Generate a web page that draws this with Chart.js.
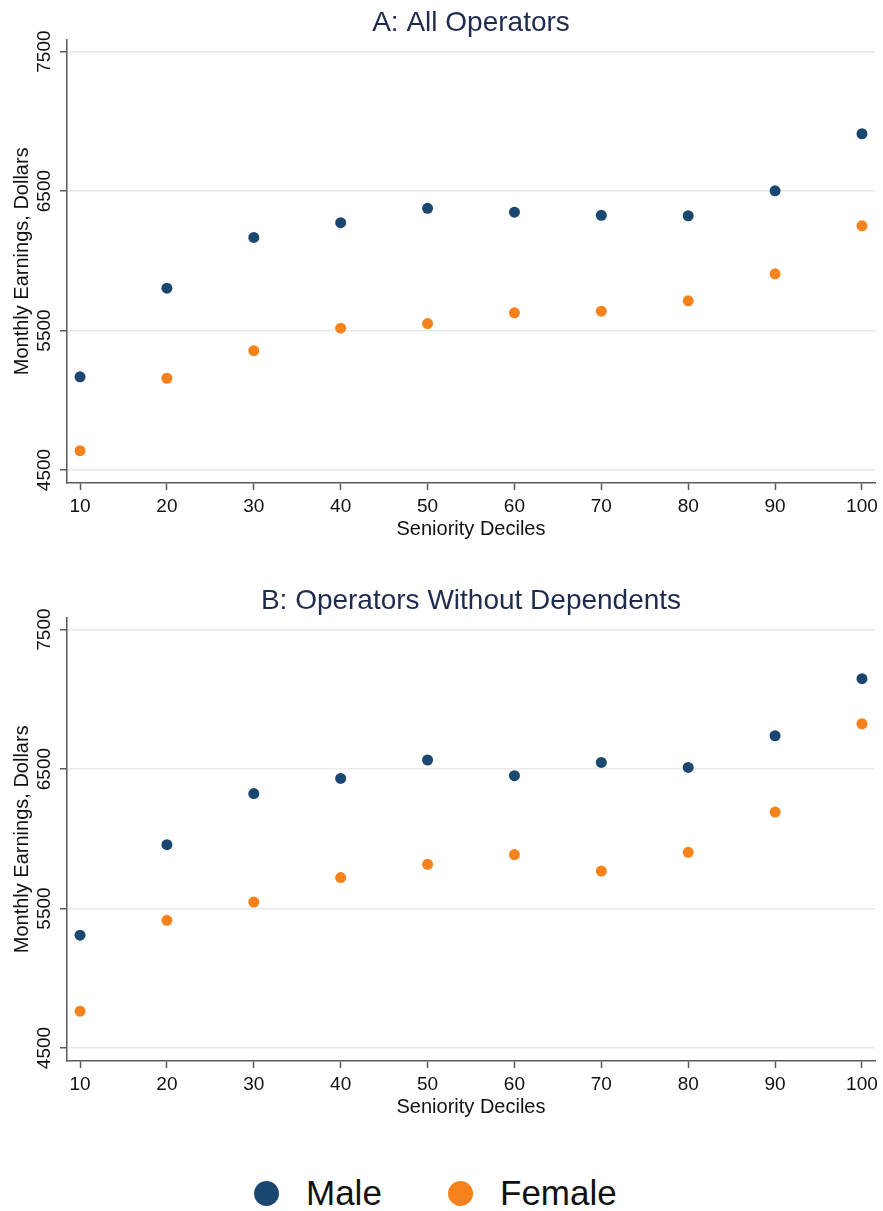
<!DOCTYPE html>
<html>
<head>
<meta charset="utf-8">
<title>Monthly earnings by seniority decile</title>
<script src="https://cdn.jsdelivr.net/npm/chart.js@4.4.1/dist/chart.umd.min.js"></script>
<style>
    body {
        margin: 0;
        background: #fff;
        width: 883px;
        height: 1211px;
        position: relative;
        overflow: hidden;
        font-family: "Liberation Sans", Arial, sans-serif;
    }
    .panel {
        position: absolute;
        left: 0;
        width: 883px;
        height: 545px;
    }
    #panelA { top: 0; }
    #panelB { top: 578px; }
    .legend-item {
        position: absolute;
        top: 1173px;
        height: 40px;
        display: flex;
        align-items: center;
        font-size: 35px;
        color: #111;
    }
    .legend-dot {
        width: 25px;
        height: 25px;
        border-radius: 50%;
        margin-right: 27px;
    }
</style>
</head>
<body>
<div class="panel" id="panelA"><canvas id="chartA"></canvas></div>
<div class="panel" id="panelB"><canvas id="chartB"></canvas></div>
<div id="legend"></div>

<script>
// Data
const deciles = [10, 20, 30, 40, 50, 60, 70, 80, 90, 100];
const yTicks = [4500, 5500, 6500, 7500];

// A: All Operators
const maleAll   = [5168, 5804, 6168, 6273, 6376, 6349, 6326, 6323, 6502, 6911];
const femaleAll = [4639, 5158, 5356, 5517, 5550, 5627, 5639, 5713, 5907, 6251];

// B: Operators Without Dependents
const maleNoDep   = [5309, 5958, 6324, 6433, 6565, 6453, 6548, 6512, 6739, 7148];
const femaleNoDep = [4764, 5416, 5547, 5722, 5817, 5887, 5769, 5903, 6192, 6825];

const seriesNames = ["Male", "Female"];
const seriesColors = ["#1a476f", "#f7821b"];

const FONT = "'Liberation Sans', Arial, sans-serif";
const AXIS = "#5a5a5a";

function toPoints(values) {
    return deciles.map((d, i) => ({ x: d, y: values[i] }));
}

function makeChart(canvasId, title, male, female) {
    const ctx = document.getElementById(canvasId).getContext("2d");
    return new Chart(ctx, {
        type: "scatter",
        data: {
            datasets: [male, female].map((vals, i) => ({
                label: seriesNames[i],
                data: toPoints(vals),
                backgroundColor: seriesColors[i],
                borderWidth: 0,
                pointRadius: 5.5,
                pointHoverRadius: 5.5
            }))
        },
        options: {
            responsive: true,
            maintainAspectRatio: false,
            animation: false,
            layout: { padding: { left: 0, right: 8, top: 0, bottom: 0 } },
            plugins: {
                legend: { display: false },
                tooltip: { enabled: false },
                title: {
                    display: true,
                    text: title,
                    fullSize: false,   // judul di tengah area plot
                    color: "#1f2b4d",
                    font: { family: FONT, size: 28, weight: "normal" },
                    padding: { top: 6, bottom: 0 }
                }
            },
            scales: {
                x: {
                    type: "linear",
                    min: 8.5,
                    max: 101.5,
                    afterBuildTicks: scale => { scale.ticks = deciles.map(v => ({ value: v })); },
                    afterFit: scale => { scale.height = 62; },
                    grid: {
                        drawOnChartArea: false,
                        drawTicks: true,
                        tickLength: 7,
                        tickColor: AXIS,
                        tickWidth: 1.5
                    },
                    border: { color: AXIS, width: 1.5 },
                    ticks: {
                        color: "#111",
                        font: { family: FONT, size: 19 },
                        padding: 5,
                        maxRotation: 0,
                        autoSkip: false
                    },
                    title: {
                        display: true,
                        text: "Seniority Deciles",
                        color: "#111",
                        font: { family: FONT, size: 20 },
                        padding: { top: 0, bottom: 4 }
                    }
                },
                y: {
                    type: "linear",
                    min: 4407,
                    max: 7586,
                    afterBuildTicks: scale => { scale.ticks = yTicks.map(v => ({ value: v })); },
                    afterFit: scale => { scale.width = 67; },
                    grid: {
                        color: "#e9e9e9",
                        lineWidth: 1.5,
                        drawTicks: true,
                        tickLength: 7,
                        tickColor: AXIS,
                        tickWidth: 1.5
                    },
                    border: { color: AXIS, width: 1.5 },
                    ticks: {
                        color: "#111",
                        font: { family: FONT, size: 19 },
                        minRotation: 90,
                        maxRotation: 90,
                        crossAlign: "center",
                        padding: -6,
                        callback: v => String(v)
                    },
                    title: {
                        display: true,
                        text: "Monthly Earnings, Dollars",
                        color: "#111",
                        font: { family: FONT, size: 20 },
                        padding: { top: 10, bottom: 0 }
                    }
                }
            }
        }
    });
}

let chartA = makeChart("chartA", "A: All Operators", maleAll, femaleAll);
let chartB = makeChart("chartB", "B: Operators Without Dependents", maleNoDep, femaleNoDep);

// Legenda bersama di bawah
const legendLeft = [254, 448];
const legend = document.getElementById("legend");
seriesNames.forEach((name, i) => {
    const item = document.createElement("div");
    item.className = "legend-item";
    item.style.left = legendLeft[i] + "px";
    item.innerHTML = `<span class="legend-dot" style="background:${seriesColors[i]}"></span><span>${name}</span>`;
    legend.appendChild(item);
});
</script>
</body>
</html>
